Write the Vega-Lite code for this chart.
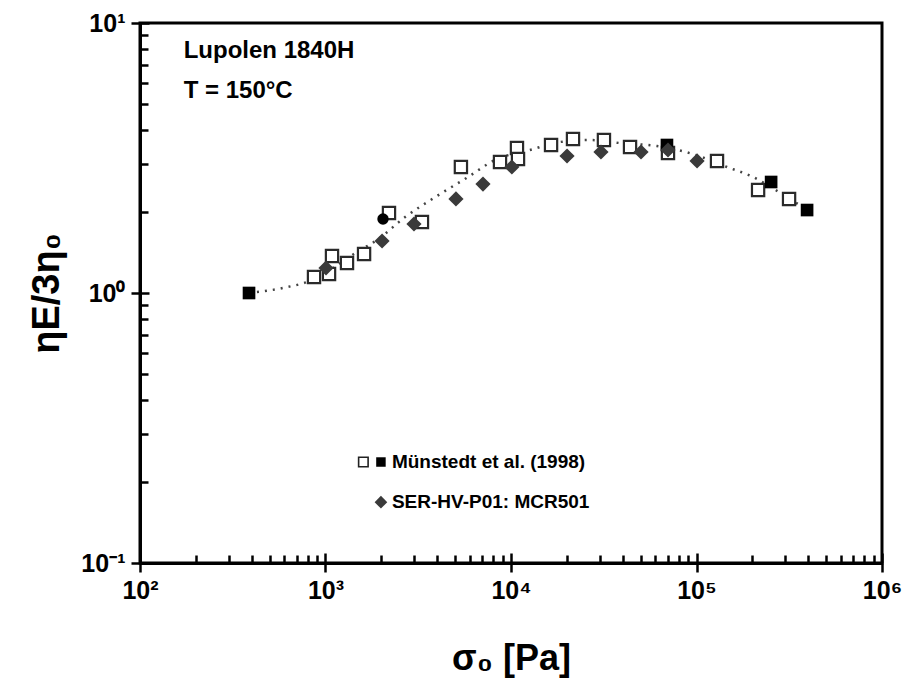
{
  "$schema": "https://vega.github.io/schema/vega-lite/v6.json",
  "width": 742,
  "height": 540,
  "autosize": {"type": "none"},
  "padding": {"left": 140, "top": 23, "right": 22, "bottom": 135},
  "background": "white",
  "config": {
    "view": {"stroke": "black", "strokeWidth": 3},
    "font": "Liberation Sans",
    "axis": {"grid": false}
  },
  "datasets": {
    "open": [
      {"x": 867, "y": 1.146}, {"x": 1045, "y": 1.176}, {"x": 1084, "y": 1.371},
      {"x": 1306, "y": 1.291}, {"x": 1614, "y": 1.394}, {"x": 2199, "y": 1.978},
      {"x": 3311, "y": 1.832}, {"x": 5370, "y": 2.929}, {"x": 8724, "y": 3.056},
      {"x": 10770, "y": 3.443}, {"x": 10910, "y": 3.136}, {"x": 16440, "y": 3.533},
      {"x": 21590, "y": 3.718}, {"x": 31700, "y": 3.686}, {"x": 43820, "y": 3.474},
      {"x": 70200, "y": 3.30}, {"x": 129000, "y": 3.084}, {"x": 214800, "y": 2.405},
      {"x": 315500, "y": 2.230}
    ],
    "filled": [
      {"x": 387, "y": 1.0}, {"x": 69300, "y": 3.533}, {"x": 252500, "y": 2.577}, {"x": 394600, "y": 2.029}
    ],
    "circle": [{"x": 2042, "y": 1.879}],
    "diamond": [
      {"x": 1006, "y": 1.238}, {"x": 2018, "y": 1.558}, {"x": 2999, "y": 1.801},
      {"x": 5050, "y": 2.230}, {"x": 7063, "y": 2.532}, {"x": 10110, "y": 2.929},
      {"x": 20050, "y": 3.216}, {"x": 30550, "y": 3.329}, {"x": 50230, "y": 3.329},
      {"x": 70200, "y": 3.385}, {"x": 100700, "y": 3.084}
    ],
    "curve": [
      {"x": 387, "y": 1.0}, {"x": 590, "y": 1.044}, {"x": 845, "y": 1.117},
      {"x": 1057, "y": 1.217}, {"x": 1479, "y": 1.419}, {"x": 1897, "y": 1.572},
      {"x": 2686, "y": 1.911}, {"x": 3991, "y": 2.287}, {"x": 5861, "y": 2.688},
      {"x": 8200, "y": 3.11}, {"x": 12650, "y": 3.385}, {"x": 18360, "y": 3.625},
      {"x": 26680, "y": 3.686}, {"x": 38720, "y": 3.593}, {"x": 61240, "y": 3.50},
      {"x": 95700, "y": 3.27}, {"x": 145900, "y": 2.929}, {"x": 201700, "y": 2.69},
      {"x": 289300, "y": 2.326}, {"x": 394600, "y": 2.029}
    ],
    "ticksX": [{"v": 100}, {"v": 1000000}],
    "notes": [
      {"x": 172, "y": 7.9, "t": "Lupolen 1840H"},
      {"x": 172, "y": 5.6, "t": "T = 150°C"}
    ],
    "legendText": [
      {"x": 2281, "y": 0.2366, "t": "Münstedt et al. (1998)"},
      {"x": 2281, "y": 0.168, "t": "SER-HV-P01: MCR501"}
    ],
    "legendOpen": [{"x": 1600, "y": 0.2366}],
    "legendFilled": [{"x": 1990, "y": 0.2366}],
    "legendDiamond": [{"x": 1990, "y": 0.168}]
  },
  "resolve": {"axis": {"x": "independent", "y": "independent"}},
  "layer": [
    {
      "data": {"name": "ticksX"},
      "mark": {"type": "point", "opacity": 0},
      "encoding": {
        "x": {
          "field": "v", "type": "quantitative",
          "scale": {"type": "log", "domain": [100, 1000000], "nice": false},
          "axis": {
            "orient": "bottom", "values": [100,200,300,400,500,600,700,800,900,1000,2000,3000,4000,5000,6000,7000,8000,9000,10000,20000,30000,40000,50000,60000,70000,80000,90000,100000,200000,300000,400000,500000,600000,700000,800000,900000,1000000],
            "labels": false, "domain": false, "title": null,
            "tickColor": "black", "tickWidth": 2.5,
            "tickSize": {"condition": {"test": "abs(log(datum.value)/LN10 - round(log(datum.value)/LN10)) < 0.001", "value": -10}, "value": -8}
          }
        },
        "y": {
          "datum": 1, "type": "quantitative",
          "scale": {"type": "log", "domain": [0.1, 10], "nice": false},
          "axis": {
            "orient": "left", "values": [0.1,0.2,0.3,0.4,0.5,0.6,0.7,0.8,0.9,1,2,3,4,5,6,7,8,9,10],
            "labels": false, "domain": false, "title": null,
            "tickColor": "black", "tickWidth": 2.5,
            "tickSize": {"condition": {"test": "abs(log(datum.value)/LN10 - round(log(datum.value)/LN10)) < 0.001", "value": -9}, "value": -8}
          }
        }
      }
    },
    {
      "mark": {"type": "rule", "strokeDash": [2.5, 5.5], "strokeWidth": 2.5, "color": "black"},
      "encoding": {
        "y": {
          "datum": 1, "type": "quantitative",
          "scale": {"type": "log", "domain": [0.1, 10], "nice": false},
          "axis": {
            "orient": "left", "values": [0.1, 1, 10],
            "labelExpr": "datum.value < 0.5 ? '10⁻¹' : datum.value < 5 ? '10⁰' : '10¹'",
            "labelFont": "Liberation Sans", "labelFontWeight": "bold", "labelFontSize": 25, "labelColor": "black",
            "labelPadding": 6,
            "domainColor": "black", "domainWidth": 3,
            "tickColor": "black", "tickWidth": 2.5, "tickSize": 9,
            "title": "ηE/3η₀", "titleFont": "Liberation Sans", "titleFontSize": 38, "titleFontWeight": "bold",
            "titleColor": "black", "titlePadding": 14
          }
        }
      }
    },
    {
      "data": {"name": "curve"},
      "mark": {"type": "line", "strokeDash": [2, 6], "strokeWidth": 2.5, "color": "#444444", "interpolate": "monotone"},
      "encoding": {
        "x": {
          "field": "x", "type": "quantitative",
          "scale": {"type": "log", "domain": [100, 1000000], "nice": false},
          "axis": {
            "orient": "bottom", "values": [100, 1000, 10000, 100000, 1000000],
            "labelExpr": "datum.value < 150 ? '10²' : datum.value < 1500 ? '10³' : datum.value < 15000 ? '10⁴' : datum.value < 150000 ? '10⁵' : '10⁶'",
            "labelFont": "Liberation Sans", "labelFontWeight": "bold", "labelFontSize": 25, "labelColor": "black",
            "labelPadding": 6, "labelFlush": false,
            "domainColor": "black", "domainWidth": 3,
            "tickColor": "black", "tickWidth": 2.5, "tickSize": 9,
            "title": "σ₀ [Pa]", "titleFont": "Liberation Sans", "titleFontSize": 36, "titleFontWeight": "bold",
            "titleColor": "black", "titlePadding": 38
          }
        },
        "y": {"field": "y", "type": "quantitative", "axis": null}
      }
    },
    {
      "data": {"name": "open"},
      "mark": {"type": "square", "size": 150, "fill": "white", "stroke": "#2a2a2a", "strokeWidth": 2.2, "opacity": 1},
      "encoding": {
        "x": {"field": "x", "type": "quantitative", "axis": null},
        "y": {"field": "y", "type": "quantitative", "axis": null}
      }
    },
    {
      "data": {"name": "filled"},
      "mark": {"type": "square", "size": 160, "color": "black", "opacity": 1},
      "encoding": {
        "x": {"field": "x", "type": "quantitative", "axis": null},
        "y": {"field": "y", "type": "quantitative", "axis": null}
      }
    },
    {
      "data": {"name": "circle"},
      "mark": {"type": "circle", "size": 130, "color": "black", "opacity": 1},
      "encoding": {
        "x": {"field": "x", "type": "quantitative", "axis": null},
        "y": {"field": "y", "type": "quantitative", "axis": null}
      }
    },
    {
      "data": {"name": "diamond"},
      "mark": {"type": "point", "shape": "diamond", "filled": true, "size": 230, "color": "#3a3a3a", "opacity": 1},
      "encoding": {
        "x": {"field": "x", "type": "quantitative", "axis": null},
        "y": {"field": "y", "type": "quantitative", "axis": null}
      }
    },
    {
      "data": {"name": "notes"},
      "mark": {"type": "text", "align": "left", "baseline": "middle", "font": "Liberation Sans", "fontWeight": "bold", "fontSize": 24, "color": "black"},
      "encoding": {
        "x": {"field": "x", "type": "quantitative", "axis": null},
        "y": {"field": "y", "type": "quantitative", "axis": null},
        "text": {"field": "t"}
      }
    },
    {
      "data": {"name": "legendOpen"},
      "mark": {"type": "square", "size": 90, "fill": "white", "stroke": "#222222", "strokeWidth": 1.6, "opacity": 1},
      "encoding": {
        "x": {"field": "x", "type": "quantitative", "axis": null},
        "y": {"field": "y", "type": "quantitative", "axis": null}
      }
    },
    {
      "data": {"name": "legendFilled"},
      "mark": {"type": "square", "size": 90, "color": "black", "opacity": 1},
      "encoding": {
        "x": {"field": "x", "type": "quantitative", "axis": null},
        "y": {"field": "y", "type": "quantitative", "axis": null}
      }
    },
    {
      "data": {"name": "legendDiamond"},
      "mark": {"type": "point", "shape": "diamond", "filled": true, "size": 160, "color": "#3a3a3a", "opacity": 1},
      "encoding": {
        "x": {"field": "x", "type": "quantitative", "axis": null},
        "y": {"field": "y", "type": "quantitative", "axis": null}
      }
    },
    {
      "data": {"name": "legendText"},
      "mark": {"type": "text", "align": "left", "baseline": "middle", "font": "Liberation Sans", "fontWeight": "bold", "fontSize": 19, "color": "black"},
      "encoding": {
        "x": {"field": "x", "type": "quantitative", "axis": null},
        "y": {"field": "y", "type": "quantitative", "axis": null},
        "text": {"field": "t"}
      }
    }
  ]
}
